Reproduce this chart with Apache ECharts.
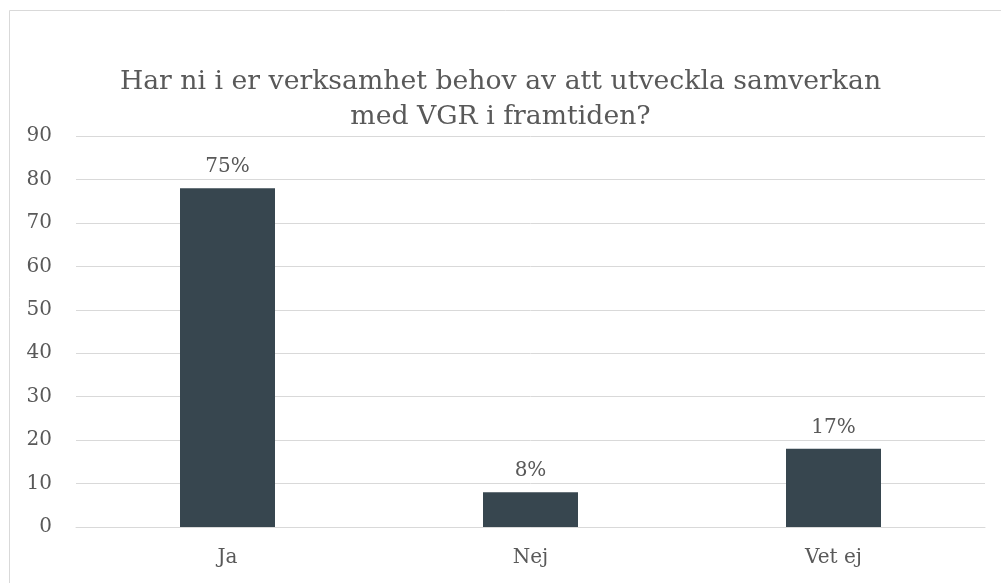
<!DOCTYPE html>
<html>
<head>
<meta charset="utf-8">
<script src="https://cdn.jsdelivr.net/npm/echarts@6/dist/echarts.min.js"></script>
<style>
  html, body { margin: 0; padding: 0; background: #fff; }
  #chart { width: 1001px; height: 583px; }
</style>
</head>
<body>
<div id="chart"></div>
<script>
// data
const categories = ['Ja', 'Nej', 'Vet ej']
const counts = [78, 8, 18]
const percentLabels = ['75%', '8%', '17%']
const yTicks = [0, 10, 20, 30, 40, 50, 60, 70, 80, 90]

const font = 'DejaVu Serif'
const textGray = '#595959'
const lineGray = '#d9d9d9'

let chart = echarts.init(document.getElementById('chart'))
chart.setOption({
  animation: false,
  textStyle: { fontFamily: font },
  title: {
    text: 'Har ni i er verksamhet behov av att utveckla samverkan\nmed VGR i framtiden?',
    left: 'center',
    top: 60,
    textStyle: {
      fontFamily: font,
      fontWeight: 'normal',
      fontSize: 26.7,
      lineHeight: 35,
      color: textGray,
      align: 'center'
    }
  },
  graphic: [
    {
      type: 'rect',
      shape: { x: 9.5, y: 10.5, width: 1100, height: 700 },
      style: { fill: 'none', stroke: lineGray, lineWidth: 1 },
      silent: true
    }
  ],
  grid: { left: 76, right: 16, top: 136, bottom: 56 },
  xAxis: {
    type: 'category',
    data: categories,
    axisTick: { show: false },
    axisLine: { lineStyle: { color: lineGray, width: 1 } },
    axisLabel: { color: textGray, fontSize: 20, margin: 21, fontFamily: font }
  },
  yAxis: {
    type: 'value',
    min: yTicks[0],
    max: yTicks[yTicks.length - 1],
    interval: 10,
    axisLine: { show: false },
    axisTick: { show: false },
    splitLine: { lineStyle: { color: lineGray, width: 1 } },
    axisLabel: { color: textGray, fontSize: 20, margin: 24, fontFamily: font, padding: [4, 0, 0, 0] }
  },
  series: [
    {
      type: 'bar',
      data: counts,
      barWidth: 95,
      itemStyle: { color: '#37464f' },
      label: {
        show: true,
        position: 'top',
        distance: 11,
        color: textGray,
        fontSize: 20,
        fontFamily: font,
        formatter: p => percentLabels[p.dataIndex]
      }
    }
  ]
})
window.onresize = chart.resize
</script>
</body>
</html>
